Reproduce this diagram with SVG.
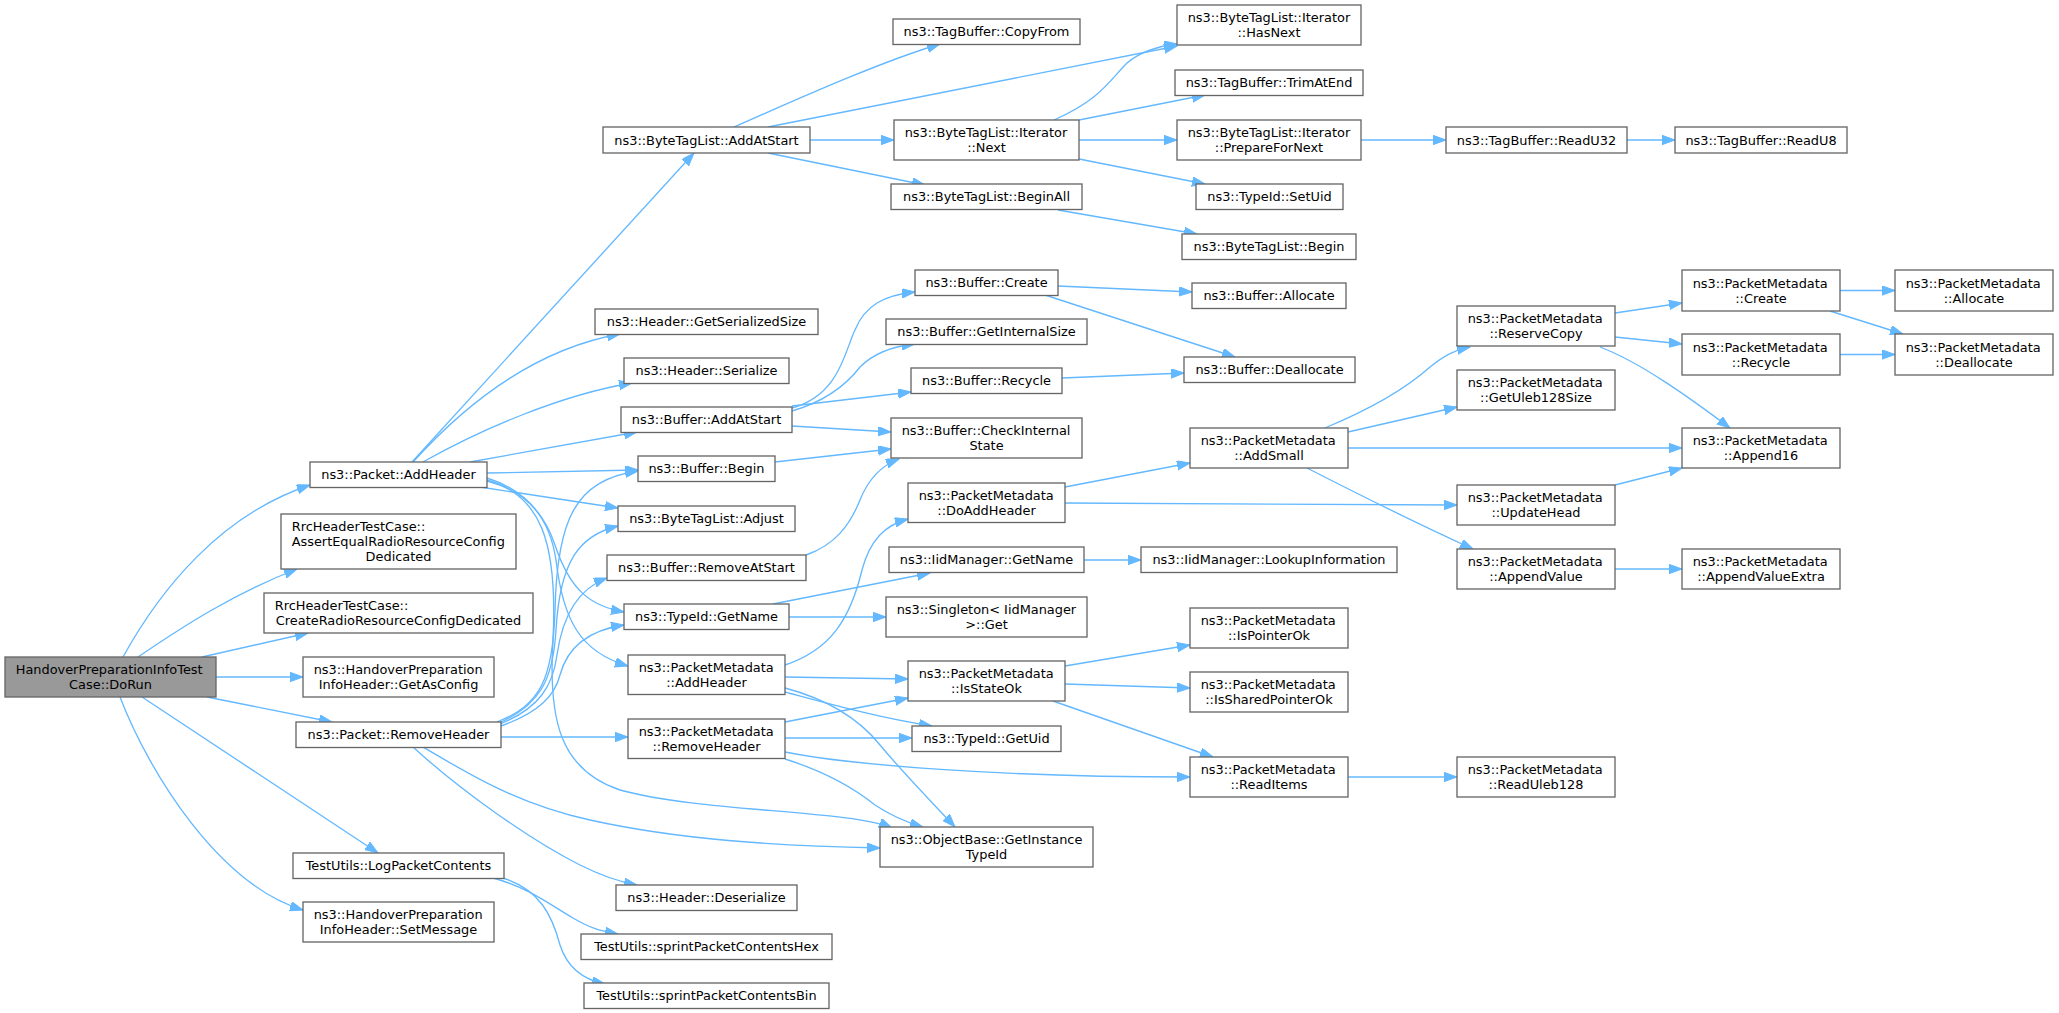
<svg xmlns="http://www.w3.org/2000/svg" width="2059" height="1013" viewBox="0 0 2059 1013">
<defs>
<style>
.node rect{fill:#ffffff;stroke:#666666;stroke-width:1.33}
.node.root rect{fill:#999999}
.node text{font-family:'DejaVu Sans','Noto Sans',sans-serif;font-size:12.9px;fill:#000000}
.m{text-anchor:middle}
.s{text-anchor:start}
.edges path{fill:none;stroke:#63b8ff;stroke-width:1.33;marker-end:url(#arr)}
</style>
<marker id="arr" markerUnits="userSpaceOnUse" markerWidth="14" markerHeight="10" viewBox="0 0 14 10" refX="13" refY="4.7" orient="auto">
<path d="M0,0 L13,4.7 L0,9.4 z" fill="#63b8ff" stroke="#63b8ff" stroke-width="1"/>
</marker>
</defs>
<rect x="0" y="0" width="2059" height="1013" fill="#ffffff"/>
<g id="edges" class="edges">
<path d="M123,657 C160,590 220,515 310,485"/>
<path d="M138,657 C185,625 235,593 297,569"/>
<path d="M202,657 L308,633"/>
<path d="M216,677 L303,677"/>
<path d="M207,697 L332,722"/>
<path d="M142,697 L378,853"/>
<path d="M120,697 C150,775 220,885 303,910"/>
<path d="M412,462 L694,153"/>
<path d="M413,462 C460,410 530,350 620,334"/>
<path d="M423,462 C480,430 560,395 632,383"/>
<path d="M470,462 L637,432"/>
<path d="M487,473 L638,470"/>
<path d="M480,487 L618,508"/>
<path d="M487,478 C525,490 545,515 555,545 C570,590 590,606 624,612"/>
<path d="M487,481 C530,492 550,520 556,560 C563,620 580,652 628,666"/>
<path d="M487,480 C540,495 558,540 553,640 C548,720 560,770 620,790 C700,812 850,810 892,828"/>
<path d="M497,722 C540,705 553,680 555,610 C557,520 575,480 638,471"/>
<path d="M499,723 C540,705 553,680 556,630 C560,560 580,535 618,526"/>
<path d="M500,724 C540,708 553,685 557,655 C563,612 580,588 607,578"/>
<path d="M501,726 C540,712 555,695 560,675 C568,645 590,630 624,625"/>
<path d="M501,737 L628,737"/>
<path d="M413,747 C460,790 530,840 580,865 C600,875 620,882 637,885"/>
<path d="M423,747 C470,775 520,805 590,820 C680,840 780,846 880,848"/>
<path d="M493,878 C530,888 550,905 573,918 C590,928 600,931 618,934"/>
<path d="M503,878 C540,890 552,915 560,945 C568,970 585,980 605,984"/>
<path d="M734,127 C800,98 880,62 940,44"/>
<path d="M768,127 L1177,46"/>
<path d="M810,140 L894,140"/>
<path d="M768,153 L925,185"/>
<path d="M792,408 C840,395 845,350 855,330 C865,305 885,295 915,292"/>
<path d="M792,411 C830,400 850,380 860,367 C875,352 895,346 915,344"/>
<path d="M792,406 L911,392"/>
<path d="M792,426 L891,432"/>
<path d="M775,462 L891,449"/>
<path d="M806,555 C835,545 850,525 860,500 C868,480 880,466 899,459"/>
<path d="M773,604 L930,573"/>
<path d="M789,617 L886,617"/>
<path d="M785,665 C830,650 850,620 862,570 C870,540 885,525 908,519"/>
<path d="M785,677 L908,679"/>
<path d="M785,692 C830,704 880,718 932,726"/>
<path d="M785,688 C830,700 860,720 880,745 C905,775 930,800 955,827"/>
<path d="M785,722 L908,698"/>
<path d="M785,738 L912,738"/>
<path d="M785,752 C850,765 1000,777 1190,777"/>
<path d="M785,759 C820,770 850,785 875,805 C890,815 905,822 923,827"/>
<path d="M1054,120 C1100,100 1110,80 1127,63 C1140,52 1160,46 1177,44"/>
<path d="M1079,120 L1205,95"/>
<path d="M1079,140 L1177,140"/>
<path d="M1079,159 L1205,184"/>
<path d="M1058,210 L1197,234"/>
<path d="M1058,286 L1192,292"/>
<path d="M1045,295 L1235,357"/>
<path d="M1062,378 L1184,373"/>
<path d="M1361,140 L1446,140"/>
<path d="M1627,140 L1675,140"/>
<path d="M1065,487 L1190,463"/>
<path d="M1065,503 L1457,505"/>
<path d="M1084,560 L1141,560"/>
<path d="M1065,666 L1190,645"/>
<path d="M1065,684 L1190,688"/>
<path d="M1053,701 L1213,757"/>
<path d="M1348,777 L1457,777"/>
<path d="M1325,428 C1380,405 1410,385 1430,367 C1445,355 1455,350 1470,347"/>
<path d="M1348,432 L1457,407"/>
<path d="M1348,448 L1682,448"/>
<path d="M1307,468 C1350,490 1420,525 1473,549"/>
<path d="M1615,313 L1682,303"/>
<path d="M1615,337 L1682,344"/>
<path d="M1600,347 C1640,362 1690,398 1730,428"/>
<path d="M1615,485 L1682,468"/>
<path d="M1615,569 L1682,569"/>
<path d="M1840,290.5 L1895,290.5"/>
<path d="M1830,311 L1903,334"/>
<path d="M1840,354.5 L1895,354.5"/>
</g>
<g id="n0" class="node root"><rect x="5" y="657" width="211" height="40"/><text class="s" x="15.7" y="674">HandoverPreparationInfoTest</text><text class="m" x="110.5" y="689">Case::DoRun</text></g>
<g id="n1" class="node"><rect x="310" y="462" width="177" height="25.5"/><text class="m" x="398.5" y="479.25">ns3::Packet::AddHeader</text></g>
<g id="n2" class="node"><rect x="281" y="514" width="235" height="55"/><text class="s" x="291.7" y="531">RrcHeaderTestCase::</text><text class="s" x="291.7" y="546">AssertEqualRadioResourceConfig</text><text class="m" x="398.5" y="561">Dedicated</text></g>
<g id="n3" class="node"><rect x="264" y="593" width="269" height="40"/><text class="s" x="274.7" y="610">RrcHeaderTestCase::</text><text class="m" x="398.5" y="625">CreateRadioResourceConfigDedicated</text></g>
<g id="n4" class="node"><rect x="303" y="657" width="191" height="40"/><text class="s" x="313.7" y="674">ns3::HandoverPreparation</text><text class="m" x="398.5" y="689">InfoHeader::GetAsConfig</text></g>
<g id="n5" class="node"><rect x="296" y="722" width="205" height="25.5"/><text class="m" x="398.5" y="739.25">ns3::Packet::RemoveHeader</text></g>
<g id="n6" class="node"><rect x="293" y="853" width="211" height="25.5"/><text class="m" x="398.5" y="870.25">TestUtils::LogPacketContents</text></g>
<g id="n7" class="node"><rect x="303" y="902" width="191" height="40"/><text class="s" x="313.7" y="919">ns3::HandoverPreparation</text><text class="m" x="398.5" y="934">InfoHeader::SetMessage</text></g>
<g id="n8" class="node"><rect x="603" y="127" width="207" height="26"/><text class="m" x="706.5" y="144.5">ns3::ByteTagList::AddAtStart</text></g>
<g id="n9" class="node"><rect x="595" y="309" width="223" height="25.5"/><text class="m" x="706.5" y="326.25">ns3::Header::GetSerializedSize</text></g>
<g id="n10" class="node"><rect x="624" y="358" width="165" height="25.5"/><text class="m" x="706.5" y="375.25">ns3::Header::Serialize</text></g>
<g id="n11" class="node"><rect x="621" y="407" width="171" height="25.5"/><text class="m" x="706.5" y="424.25">ns3::Buffer::AddAtStart</text></g>
<g id="n12" class="node"><rect x="638" y="456" width="137" height="25.5"/><text class="m" x="706.5" y="473.25">ns3::Buffer::Begin</text></g>
<g id="n13" class="node"><rect x="618" y="506" width="177" height="25.5"/><text class="m" x="706.5" y="523.25">ns3::ByteTagList::Adjust</text></g>
<g id="n14" class="node"><rect x="607" y="555" width="199" height="25.5"/><text class="m" x="706.5" y="572.25">ns3::Buffer::RemoveAtStart</text></g>
<g id="n15" class="node"><rect x="624" y="604" width="165" height="25.5"/><text class="m" x="706.5" y="621.25">ns3::TypeId::GetName</text></g>
<g id="n16" class="node"><rect x="628" y="655" width="157" height="39.5"/><text class="s" x="638.7" y="671.75">ns3::PacketMetadata</text><text class="m" x="706.5" y="686.75">::AddHeader</text></g>
<g id="n17" class="node"><rect x="628" y="719" width="157" height="39.5"/><text class="s" x="638.7" y="735.75">ns3::PacketMetadata</text><text class="m" x="706.5" y="750.75">::RemoveHeader</text></g>
<g id="n18" class="node"><rect x="616" y="885" width="181" height="25.5"/><text class="m" x="706.5" y="902.25">ns3::Header::Deserialize</text></g>
<g id="n19" class="node"><rect x="581" y="934" width="251" height="25.5"/><text class="m" x="706.5" y="951.25">TestUtils::sprintPacketContentsHex</text></g>
<g id="n20" class="node"><rect x="584" y="983" width="245" height="25.5"/><text class="m" x="706.5" y="1000.25">TestUtils::sprintPacketContentsBin</text></g>
<g id="n21" class="node"><rect x="893" y="19" width="187" height="25.5"/><text class="m" x="986.5" y="36.25">ns3::TagBuffer::CopyFrom</text></g>
<g id="n22" class="node"><rect x="894" y="120" width="185" height="40"/><text class="s" x="904.7" y="137">ns3::ByteTagList::Iterator</text><text class="m" x="986.5" y="152">::Next</text></g>
<g id="n23" class="node"><rect x="891" y="184" width="191" height="25.5"/><text class="m" x="986.5" y="201.25">ns3::ByteTagList::BeginAll</text></g>
<g id="n24" class="node"><rect x="915" y="270" width="143" height="25.5"/><text class="m" x="986.5" y="287.25">ns3::Buffer::Create</text></g>
<g id="n25" class="node"><rect x="886" y="319" width="201" height="25.5"/><text class="m" x="986.5" y="336.25">ns3::Buffer::GetInternalSize</text></g>
<g id="n26" class="node"><rect x="911" y="368" width="151" height="25.5"/><text class="m" x="986.5" y="385.25">ns3::Buffer::Recycle</text></g>
<g id="n27" class="node"><rect x="891" y="418" width="191" height="40"/><text class="s" x="901.7" y="435">ns3::Buffer::CheckInternal</text><text class="m" x="986.5" y="450">State</text></g>
<g id="n28" class="node"><rect x="908" y="483" width="157" height="39.5"/><text class="s" x="918.7" y="499.75">ns3::PacketMetadata</text><text class="m" x="986.5" y="514.75">::DoAddHeader</text></g>
<g id="n29" class="node"><rect x="889" y="547" width="195" height="25.5"/><text class="m" x="986.5" y="564.25">ns3::IidManager::GetName</text></g>
<g id="n30" class="node"><rect x="886" y="597" width="201" height="40"/><text class="s" x="896.7" y="614">ns3::Singleton&lt; IidManager</text><text class="m" x="986.5" y="629">&gt;::Get</text></g>
<g id="n31" class="node"><rect x="908" y="661" width="157" height="40"/><text class="s" x="918.7" y="678">ns3::PacketMetadata</text><text class="m" x="986.5" y="693">::IsStateOk</text></g>
<g id="n32" class="node"><rect x="912" y="726" width="149" height="25.5"/><text class="m" x="986.5" y="743.25">ns3::TypeId::GetUid</text></g>
<g id="n33" class="node"><rect x="880" y="827" width="213" height="40"/><text class="s" x="890.7" y="844">ns3::ObjectBase::GetInstance</text><text class="m" x="986.5" y="859">TypeId</text></g>
<g id="n34" class="node"><rect x="1177" y="5" width="184" height="40"/><text class="s" x="1187.7" y="22">ns3::ByteTagList::Iterator</text><text class="m" x="1269" y="37">::HasNext</text></g>
<g id="n35" class="node"><rect x="1175" y="70" width="188" height="25.5"/><text class="m" x="1269" y="87.25">ns3::TagBuffer::TrimAtEnd</text></g>
<g id="n36" class="node"><rect x="1177" y="120" width="184" height="40"/><text class="s" x="1187.7" y="137">ns3::ByteTagList::Iterator</text><text class="m" x="1269" y="152">::PrepareForNext</text></g>
<g id="n37" class="node"><rect x="1196" y="184" width="147" height="25.5"/><text class="m" x="1269.5" y="201.25">ns3::TypeId::SetUid</text></g>
<g id="n38" class="node"><rect x="1182" y="234" width="174" height="25.5"/><text class="m" x="1269" y="251.25">ns3::ByteTagList::Begin</text></g>
<g id="n39" class="node"><rect x="1192" y="283" width="154" height="25.5"/><text class="m" x="1269" y="300.25">ns3::Buffer::Allocate</text></g>
<g id="n40" class="node"><rect x="1184" y="357" width="171" height="25.5"/><text class="m" x="1269.5" y="374.25">ns3::Buffer::Deallocate</text></g>
<g id="n41" class="node"><rect x="1190" y="428" width="158" height="40"/><text class="s" x="1200.7" y="445">ns3::PacketMetadata</text><text class="m" x="1269" y="460">::AddSmall</text></g>
<g id="n42" class="node"><rect x="1141" y="547" width="256" height="25.5"/><text class="m" x="1269" y="564.25">ns3::IidManager::LookupInformation</text></g>
<g id="n43" class="node"><rect x="1190" y="608" width="158" height="40"/><text class="s" x="1200.7" y="625">ns3::PacketMetadata</text><text class="m" x="1269" y="640">::IsPointerOk</text></g>
<g id="n44" class="node"><rect x="1190" y="672" width="158" height="40"/><text class="s" x="1200.7" y="689">ns3::PacketMetadata</text><text class="m" x="1269" y="704">::IsSharedPointerOk</text></g>
<g id="n45" class="node"><rect x="1190" y="757" width="158" height="40"/><text class="s" x="1200.7" y="774">ns3::PacketMetadata</text><text class="m" x="1269" y="789">::ReadItems</text></g>
<g id="n46" class="node"><rect x="1446" y="127" width="181" height="26"/><text class="m" x="1536.5" y="144.5">ns3::TagBuffer::ReadU32</text></g>
<g id="n47" class="node"><rect x="1457" y="306" width="158" height="40"/><text class="s" x="1467.7" y="323">ns3::PacketMetadata</text><text class="m" x="1536" y="338">::ReserveCopy</text></g>
<g id="n48" class="node"><rect x="1457" y="370" width="158" height="40"/><text class="s" x="1467.7" y="387">ns3::PacketMetadata</text><text class="m" x="1536" y="402">::GetUleb128Size</text></g>
<g id="n49" class="node"><rect x="1457" y="485" width="158" height="40"/><text class="s" x="1467.7" y="502">ns3::PacketMetadata</text><text class="m" x="1536" y="517">::UpdateHead</text></g>
<g id="n50" class="node"><rect x="1457" y="549" width="158" height="40"/><text class="s" x="1467.7" y="566">ns3::PacketMetadata</text><text class="m" x="1536" y="581">::AppendValue</text></g>
<g id="n51" class="node"><rect x="1457" y="757" width="158" height="40"/><text class="s" x="1467.7" y="774">ns3::PacketMetadata</text><text class="m" x="1536" y="789">::ReadUleb128</text></g>
<g id="n52" class="node"><rect x="1675" y="127" width="172" height="26"/><text class="m" x="1761" y="144.5">ns3::TagBuffer::ReadU8</text></g>
<g id="n53" class="node"><rect x="1682" y="270" width="158" height="41"/><text class="s" x="1692.7" y="287.5">ns3::PacketMetadata</text><text class="m" x="1761" y="302.5">::Create</text></g>
<g id="n54" class="node"><rect x="1682" y="334" width="158" height="41"/><text class="s" x="1692.7" y="351.5">ns3::PacketMetadata</text><text class="m" x="1761" y="366.5">::Recycle</text></g>
<g id="n55" class="node"><rect x="1682" y="428" width="158" height="40"/><text class="s" x="1692.7" y="445">ns3::PacketMetadata</text><text class="m" x="1761" y="460">::Append16</text></g>
<g id="n56" class="node"><rect x="1682" y="549" width="158" height="40"/><text class="s" x="1692.7" y="566">ns3::PacketMetadata</text><text class="m" x="1761" y="581">::AppendValueExtra</text></g>
<g id="n57" class="node"><rect x="1895" y="270" width="158" height="41"/><text class="s" x="1905.7" y="287.5">ns3::PacketMetadata</text><text class="m" x="1974" y="302.5">::Allocate</text></g>
<g id="n58" class="node"><rect x="1895" y="334" width="158" height="41"/><text class="s" x="1905.7" y="351.5">ns3::PacketMetadata</text><text class="m" x="1974" y="366.5">::Deallocate</text></g>
</svg>
